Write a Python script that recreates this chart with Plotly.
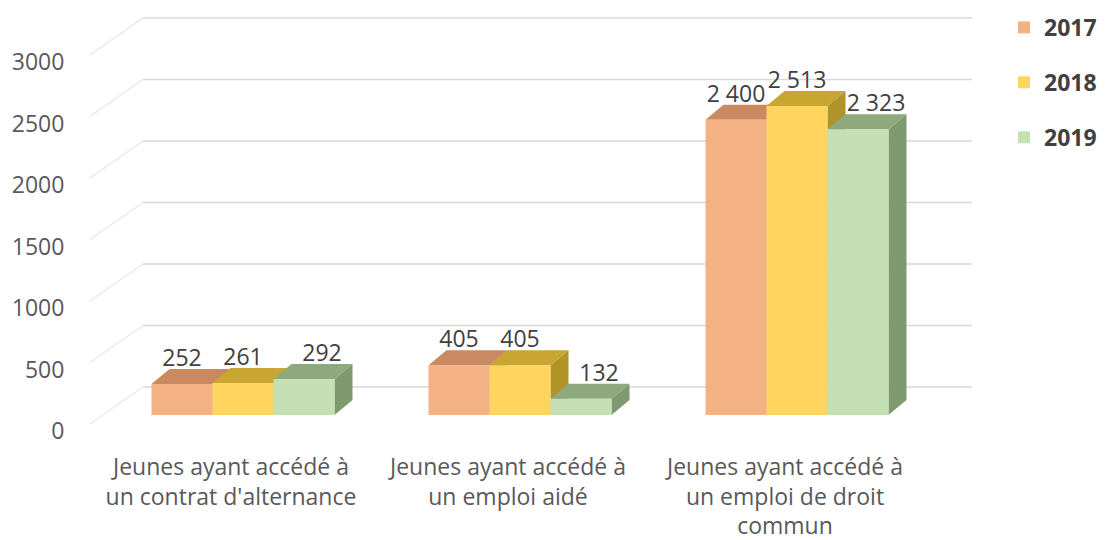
import plotly.graph_objects as go

# ---------------- data ----------------
categories = [
    "Jeunes ayant accédé à<br>un contrat d'alternance",
    "Jeunes ayant accédé à<br>un emploi aidé",
    "Jeunes ayant accédé à<br>un emploi de droit<br>commun",
]
years = ["2017", "2018", "2019"]
values_2017 = [252, 405, 2400]
values_2018 = [261, 405, 2513]
values_2019 = [292, 132, 2323]
tick_values = [0, 500, 1000, 1500, 2000, 2500, 3000]
tick_labels = ["0", "500", "1000", "1500", "2000", "2500", "3000"]

series_values = [values_2017, values_2018, values_2019]
front_colors = ["#F4B183", "#FFD55F", "#C5E0B4"]
top_colors = ["#C98A62", "#C9A632", "#8FA97F"]
side_colors = ["#B9805A", "#B09428", "#7E9A6E"]

# ---------------- geometry (page pixels -> data units) ----------------
PAGE_OFF = 8                 # default body margin of the html page
W, H = 1112 - PAGE_OFF, 540 - PAGE_OFF
PLOT_L, PLOT_R, PLOT_T, PLOT_B = 80, 985, 10, 432
CAT0_PX, CAT_PX = 243.0, 277.0        # first group centre, group spacing
BASE_PX, VAL_PX = 415.0, 0.123         # bar baseline, px per unit
LABEL0_PX = 431.0                      # value-axis labels plane (0)
BACK0_PX = 387.0                       # back wall (0)
FRONT0_PX = 424.0                      # front edge of the floor diagonals
BAR_W = 61.0 / CAT_PX
DEPTH_DX = 18.0 / CAT_PX
DEPTH_DY = 15.0 / VAL_PX
LABEL_SHIFT = [0.0, 0.0, DEPTH_DX]


def xd(px):
    return (px - CAT0_PX) / CAT_PX


def yd(px_off):
    return px_off / VAL_PX


x_range = [xd(PLOT_L), xd(PLOT_R)]
y_range = [yd(BASE_PX - PLOT_B), yd(BASE_PX - PLOT_T)]
y2_range = [yd(LABEL0_PX - PLOT_B), yd(LABEL0_PX - PLOT_T)]

FONT = "Open Sans"
fig = go.Figure()

# ---------------- bars with 3D faces ----------------
positions = list(range(len(categories)))
for k, (year, vals) in enumerate(zip(years, series_values)):
    off = -1.5 * BAR_W + k * BAR_W
    tx, ty, sx, sy = [], [], [], []
    for i, v in zip(positions, vals):
        x0 = i + off
        x1 = x0 + BAR_W
        tx += [x0, x1, x1 + DEPTH_DX, x0 + DEPTH_DX, x0, None]
        ty += [v, v, v + DEPTH_DY, v + DEPTH_DY, v, None]
        sx += [x1, x1, x1 + DEPTH_DX, x1 + DEPTH_DX, x1, None]
        sy += [0, v, v + DEPTH_DY, DEPTH_DY, 0, None]
    fig.add_trace(go.Scatter(x=sx, y=sy, mode="lines", fill="toself",
                             fillcolor=side_colors[k], line=dict(width=0, color=side_colors[k]),
                             showlegend=False, hoverinfo="skip", zorder=3 * k))
    fig.add_trace(go.Scatter(x=tx, y=ty, mode="lines", fill="toself",
                             fillcolor=top_colors[k], line=dict(width=0, color=top_colors[k]),
                             showlegend=False, hoverinfo="skip", zorder=3 * k + 1))
    fig.add_trace(go.Bar(x=positions, y=vals, name=year, width=BAR_W, offset=off,
                         marker=dict(color=front_colors[k], line=dict(width=0)),
                         legendgroup=year, zorder=3 * k + 2))

# data labels
for k, vals in enumerate(series_values):
    off = -1.5 * BAR_W + k * BAR_W
    lx = [i + off + BAR_W / 2 + LABEL_SHIFT[k] for i in positions]
    ly = [v + DEPTH_DY + yd(9) for v in vals]
    txt = [f"{v:,}".replace(",", " ") for v in vals]
    fig.add_trace(go.Scatter(x=lx, y=ly, mode="text", text=txt, textposition="middle center",
                             textfont=dict(family=FONT, size=23, color="#404040"),
                             showlegend=False, hoverinfo="skip", zorder=20))

# value-axis labels on overlaid axis
fig.add_trace(go.Scatter(x=[x_range[0]], y=[0], yaxis="y2", mode="markers",
                         marker=dict(opacity=0), showlegend=False, hoverinfo="skip"))

# ---------------- gridlines (back wall + floor diagonals) ----------------
shapes = []
for v in tick_values:
    yb = v + yd(BASE_PX - BACK0_PX)
    yf = v + yd(BASE_PX - FRONT0_PX)
    shapes.append(dict(type="line", xref="x", yref="y", x0=xd(90), y0=yf, x1=xd(143), y1=yb,
                       line=dict(color="#E8E8E8", width=1.3), layer="below"))
    shapes.append(dict(type="line", xref="x", yref="y", x0=xd(143), y0=yb, x1=xd(972), y1=yb,
                       line=dict(color="#D9D9D9", width=1.3), layer="below"))

fig.update_layout(
    width=W, height=H, autosize=False,
    template="none",
    paper_bgcolor="white", plot_bgcolor="white",
    margin=dict(l=PLOT_L - PAGE_OFF, r=W - (PLOT_R - PAGE_OFF), t=PLOT_T - PAGE_OFF,
                b=H - (PLOT_B - PAGE_OFF), pad=0, autoexpand=False),
    shapes=shapes,
    barmode="overlay",
    xaxis=dict(range=x_range, tickvals=[i + xd(CAT0_PX - 12) for i in positions],
               ticktext=categories, showgrid=False, zeroline=False, showline=False,
               ticks="outside", ticklen=14, tickcolor="rgba(0,0,0,0)", automargin=False,
               tickfont=dict(family=FONT, size=23, color="#595959")),
    yaxis=dict(range=y_range, showgrid=False, zeroline=False, showline=False,
               showticklabels=False, automargin=False),
    yaxis2=dict(range=y2_range, overlaying="y", side="left", tickvals=tick_values,
                ticktext=tick_labels, showgrid=False, zeroline=False, showline=False,
                ticks="outside", ticklen=10, tickcolor="rgba(0,0,0,0)", automargin=False,
                tickfont=dict(family=FONT, size=23, color="#595959")),
    legend=dict(x=(1004 - PLOT_L) / (PLOT_R - PLOT_L), y=1 - (6 - PLOT_T) / (PLOT_B - PLOT_T),
                xanchor="left", yanchor="top", tracegroupgap=22,
                font=dict(family=FONT, size=23, color="#404040", weight="bold"),
                bgcolor="rgba(0,0,0,0)", itemwidth=30),
    showlegend=True,
)

fig.write_html("out.html")
